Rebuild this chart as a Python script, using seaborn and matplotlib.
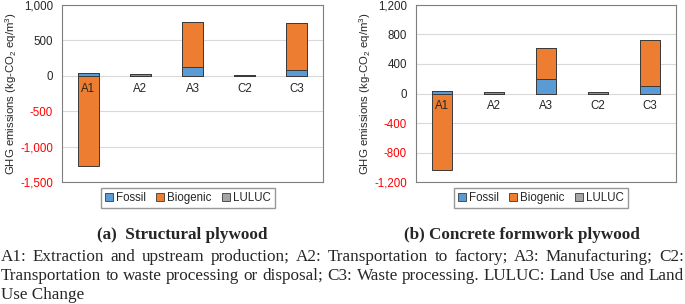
import matplotlib
matplotlib.use("Agg")
import matplotlib.pyplot as plt
from matplotlib.patches import Patch
from matplotlib.ticker import FuncFormatter
import seaborn as sns
import pandas as pd
import numpy as np

#%% data
stages = ["A1", "A2", "A3", "C2", "C3"]

# (a) structural plywood
a_fossil = [35, 25, 130, 15, 85]
a_biogenic = [-1280, 0, 630, 0, 660]
a_luluc = [3, 2, 4, 1, 3]

# (b) concrete formwork plywood
b_fossil = [30, 20, 190, 20, 108]
b_biogenic = [-1040, 0, 425, 0, 622]
b_luluc = [3, 2, 3, 1, 2]

a_ticks = [1000, 500, 0, -500, -1000, -1500]
b_ticks = [1200, 800, 400, 0, -400, -800, -1200]

series_names = ["Fossil", "Biogenic", "LULUC"]
colors = {"Fossil": "#5B9BD5", "Biogenic": "#ED7D31", "LULUC": "#A5A5A5"}

subtitles = ["(a)  Structural plywood", "(b) Concrete formwork plywood"]
caption_lines = [
    "A1: Extraction and upstream production; A2: Transportation to factory; A3: Manufacturing; C2:",
    "Transportation to waste processing or disposal; C3: Waste processing. LULUC: Land Use and Land",
    "Use Change",
]

#%% style
sns.set_style("white")
plt.rcParams["font.family"] = ["Liberation Sans", "DejaVu Sans"]
plt.rcParams["mathtext.fontset"] = "custom"
plt.rcParams["mathtext.rm"] = "Liberation Sans"
plt.rcParams["mathtext.it"] = "Liberation Sans:italic"

fig = plt.figure(figsize=(6.85, 3.04), dpi=100)
W, H = 685, 304
ax_a = fig.add_axes([62 / W, 1 - 182 / H, 261 / W, 177 / H])
ax_b = fig.add_axes([416 / W, 1 - 182 / H, 260 / W, 177 / H])


def stacked(ax, fossil, biogenic, luluc, ticks):
    df = pd.DataFrame({"stage": stages, "fossil": fossil,
                       "bio": biogenic, "luluc": luluc})
    bio_pos = df["bio"].clip(lower=0)
    bio_neg = df["bio"].clip(upper=0)
    layers = [
        (df["fossil"] + bio_pos + df["luluc"], colors["LULUC"]),
        (df["fossil"] + bio_pos, colors["Biogenic"]),
        (df["fossil"], colors["Fossil"]),
        (bio_neg, colors["Biogenic"]),
    ]
    for vals, c in layers:
        sns.barplot(x=df["stage"], y=vals, ax=ax, color=c, width=0.4,
                    edgecolor="#3a3a3a", linewidth=0.7, saturation=1,
                    order=stages, zorder=3)
    ax.set_ylim(min(ticks), max(ticks))
    ax.set_xlim(-0.5, len(stages) - 0.5)
    ax.set_yticks(ticks)
    ax.yaxis.set_major_formatter(FuncFormatter(lambda v, p: f"{v:,.0f}"))
    ax.tick_params(axis="y", length=0, pad=6.5, labelsize=8.3)
    for lab, v in zip(ax.get_yticklabels(), ax.get_yticks()):
        if v < 0:
            lab.set_color("#FF0000")
    ax.grid(axis="y", color="#D9D9D9", linewidth=0.8, zorder=0)
    ax.set_axisbelow(True)
    ax.set_xticks([])
    ax.set_xlabel("")
    ax.set_ylabel(r"GHG emissions (kg-CO$_\mathregular{2}$ eq/m$^\mathregular{3}$)",
                  fontsize=8.2, labelpad=1)
    for s in ax.spines.values():
        s.set_color("#7F7F7F")
        s.set_linewidth(0.8)
    # category labels sit just under the zero line, on top of the bars
    for i, st in enumerate(stages):
        ax.annotate(st, xy=(i, 0), xytext=(0, -5), textcoords="offset points",
                    ha="center", va="top", fontsize=8.3, zorder=6)


stacked(ax_a, a_fossil, a_biogenic, a_luluc, a_ticks)
stacked(ax_b, b_fossil, b_biogenic, b_luluc, b_ticks)

handles = [Patch(facecolor=colors[n], edgecolor="#3a3a3a", linewidth=0.6, label=n)
           for n in series_names]
for cx in [188 / W, 541 / W]:
    fig.legend(handles=handles, loc="center", bbox_to_anchor=(cx, 1 - 198 / H),
               ncol=3, fontsize=8.3, frameon=True, fancybox=False,
               edgecolor="#7F7F7F", handlelength=0.7, handleheight=0.7,
               handletextpad=0.25, columnspacing=0.9, borderpad=0.35,
               borderaxespad=0)

serif = ["Liberation Serif", "DejaVu Serif"]
fig.text(182 / W, 1 - 235 / H, subtitles[0], ha="center", va="center",
         family=serif, fontweight="bold", fontsize=12.3)
fig.text(522 / W, 1 - 235 / H, subtitles[1], ha="center", va="center",
         family=serif, fontweight="bold", fontsize=12.3)


def justified(words, y, x0, x1, **kw):
    fig.canvas.draw()
    r = fig.canvas.get_renderer()
    txts = [fig.text(0, y, w, va="center", ha="left", **kw) for w in words]
    widths = [t.get_window_extent(r).width for t in txts]
    gap = ((x1 - x0) - sum(widths)) / (len(words) - 1)
    x = x0
    for t, w in zip(txts, widths):
        t.set_x(x / W)
        x += w + gap


cap_kw = dict(family=serif, fontsize=12.3)
justified(caption_lines[0].split(), 1 - 257 / H, 1, 684, **cap_kw)
justified(caption_lines[1].split(), 1 - 276 / H, 1, 684, **cap_kw)
fig.text(1 / W, 1 - 295 / H, caption_lines[2], va="center", ha="left", **cap_kw)

fig.savefig("out.png", dpi=100)
